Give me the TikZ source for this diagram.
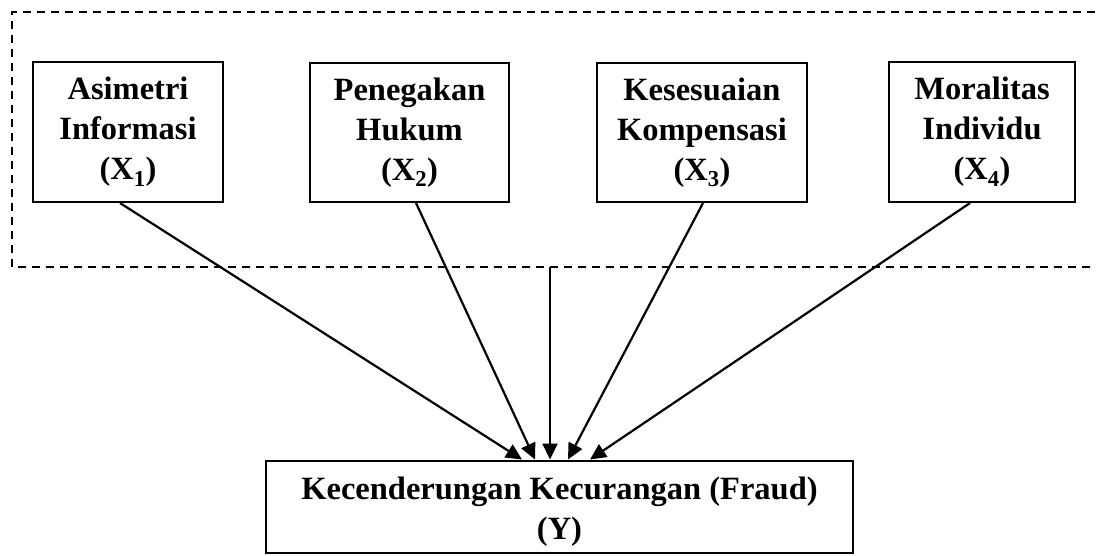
\documentclass[tikz,border=0pt]{standalone}
\usepackage{fontspec}
\setmainfont{Liberation Serif}
\usetikzlibrary{arrows.meta,calc}
\begin{document}
\begin{tikzpicture}[x=1pt,y=-1pt,
  varbox/.style={draw,line width=2pt,inner sep=0pt,align=center,
    font=\bfseries\fontsize{32.5}{40}\selectfont},
  frame/.style={line width=1.8pt,dash pattern=on 8pt off 6pt},
  link/.style={line width=2.2pt,-{Triangle[length=16pt,width=15pt]}}]
\useasboundingbox (0,0) rectangle (1099,555);
% outer dashed frame, open on the right
\draw[frame] (1095,12) -- (12,12) -- (12,267) -- (1095,267);
\coordinate (fb) at (550,267);
% independent variables
\node[varbox,minimum width=190pt,minimum height=140pt] (x1) at (128,132)
  {Asimetri\\Informasi\\(X\textsubscript{1})};
\node[varbox,minimum width=199pt,minimum height=139pt] (x2) at (409.5,132.5)
  {Penegakan\\Hukum\\(X\textsubscript{2})};
\node[varbox,minimum width=210pt,minimum height=139pt] (x3) at (702,132.5)
  {Kesesuaian\\Kompensasi\\(X\textsubscript{3})};
\node[varbox,minimum width=186pt,minimum height=140pt] (x4) at (982,132)
  {Moralitas\\Individu\\(X\textsubscript{4})};
% dependent variable
\node[varbox,minimum width=587pt,minimum height=92pt] (y) at (559.5,506.5) {};
\node[font=\bfseries\fontsize{32.5}{40}\selectfont,align=center,inner sep=0pt]
  (ytext) at ([yshift=-5pt]y.center) {Kecenderungan Kecurangan (Fraud)\\(Y)};
% arrows into Y
\draw[link] ([xshift=-8pt]x1.south) -- ([xshift=-37.5pt]y.north);
\draw[link] ([xshift=6.5pt]x2.south) -- ([xshift=-24.5pt]y.north);
\draw[link] (fb) -- ([xshift=-9.5pt]y.north);
\draw[link] ([xshift=1pt]x3.south) -- ([xshift=8.5pt]y.north);
\draw[link] ([xshift=-12pt]x4.south) -- ([xshift=30.5pt]y.north);
\end{tikzpicture}
\end{document}
